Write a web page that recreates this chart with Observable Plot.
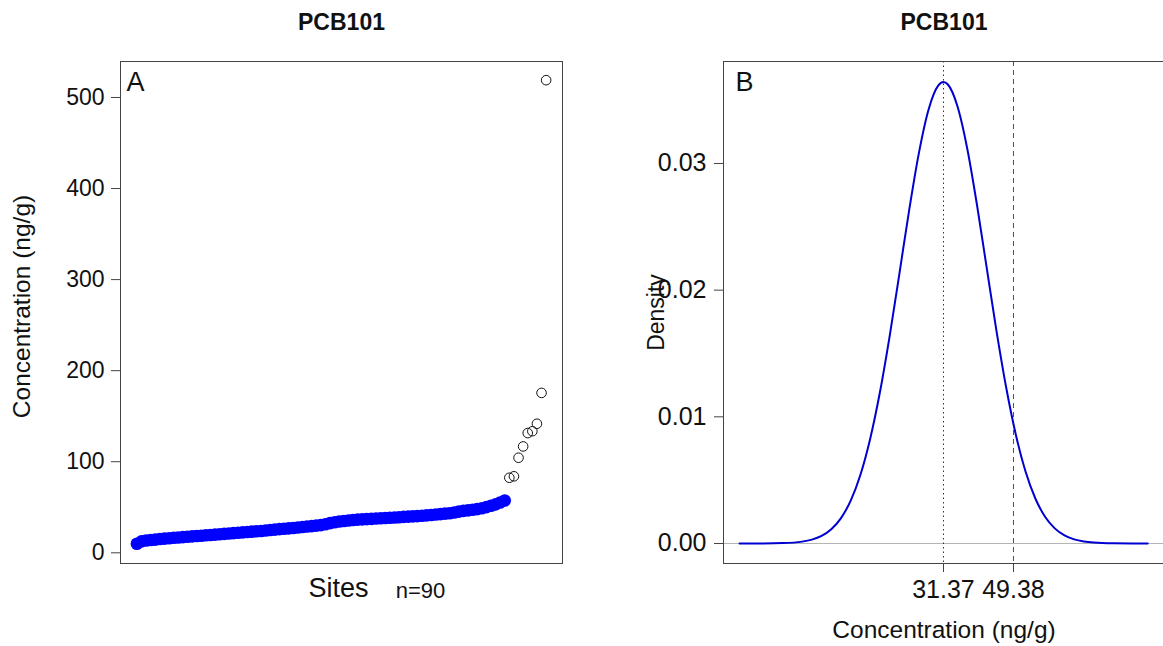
<!DOCTYPE html>
<html>
<head>
<meta charset="utf-8">
<script src="https://cdn.jsdelivr.net/npm/d3@7"></script>
<script src="https://cdn.jsdelivr.net/npm/@observablehq/plot@0.6"></script>
<style>
  html, body { margin: 0; padding: 0; overflow: hidden; background: #fff; }
  #wrap { position: relative; width: 1163px; height: 646px; overflow: hidden; }
  #panelA { position: absolute; left: 0; top: 0; width: 600px; }
  #panelB { position: absolute; left: 600px; top: 0; width: 570px; }
</style>
</head>
<body>
<div id="wrap"><div id="panelA"></div><div id="panelB"></div></div>
<script>
// PCB101 concentrations (ng/g) at 90 sites, sorted ascending.
// Sites within the normal range (filled blue points)
const sitesNormal = [
  10, 12.5, 13.5, 14, 14.5, 15.2, 15.6, 16, 16.5, 16.8,
  17.2, 17.6, 18, 18.4, 18.8, 19.2, 19.6, 20, 20.4, 20.8,
  21.2, 21.6, 22, 22.4, 22.8, 23.2, 23.6, 24, 24.5, 25,
  25.5, 26, 26.4, 26.8, 27.3, 27.8, 28.3, 28.8, 29.3, 29.8,
  30.4, 31.4, 32.6, 33.6, 34.4, 35, 35.5, 36, 36.4, 36.7,
  37, 37.3, 37.6, 37.9, 38.2, 38.5, 38.8, 39.1, 39.4, 39.7,
  40, 40.3, 40.7, 41.1, 41.5, 42, 42.5, 43, 43.5, 44.3,
  45.2, 46, 46.6, 47.2, 48, 49, 50.2, 51.6, 53.2, 55.2,
  57.5
];
// High-concentration sites (open circles)
const sitesHigh = [82.4, 84, 104.4, 116.8, 131.5, 133.5, 141.7, 175.6, 519];

// Fitted density of concentration (panel B)
const densityConc = [
  -21.1, -15, -10, -5, -2.5, 0, 2.5, 5, 7.5, 10, 12.5, 15, 17.5, 20, 22.5, 25, 27.5, 30,
  31.37, 32.5, 35, 37.5, 40, 42.5, 45, 47.5, 50, 52.5, 55, 57.5, 60, 62.5, 65, 67.5,
  70, 75, 80, 83.9
];
const densityValue = [
  0, 0.000005, 0.000029, 0.000146, 0.000305, 0.000601, 0.001127, 0.002004, 0.003385,
  0.005425, 0.008252, 0.011916, 0.016332, 0.021249, 0.026241, 0.030759, 0.034224, 0.036146,
  0.03643, 0.036237, 0.034482, 0.031146, 0.026703, 0.021732, 0.016789, 0.012310, 0.008568,
  0.005660, 0.003551, 0.002113, 0.001194, 0.000640, 0.000326, 0.000157, 0.000072, 0.000013,
  0.000002, 0
];
const meanConc = 31.37;
const upperConc = 49.38;

// Tick values
const yTicksA = [0, 100, 200, 300, 400, 500];
const yTicksB = [0, 0.01, 0.02, 0.03];
const xTicksB = [meanConc, upperConc];

const FONT = "'Liberation Sans', Arial, Helvetica, sans-serif";
const INK = "#111";
const AXIS = "#444";

const normalRows = sitesNormal.map((v, i) => ({site: i + 1, conc: v}));
const highRows = sitesHigh.map((v, i) => ({site: sitesNormal.length + i + 1, conc: v}));
const nSites = normalRows.length + highRows.length;
const densityRows = densityConc.map((x, i) => ({conc: x, density: densityValue[i]}));

const label = (s, o) => Plot.text([s], {text: d => d, fill: INK, lineAnchor: "middle", ...o});

// Panel A: sorted site concentrations
const plotA = Plot.plot({
  width: 600, height: 646,
  marginLeft: 120, marginRight: 38, marginTop: 61, marginBottom: 83,
  style: {fontFamily: FONT, fontSize: "23px", color: AXIS, background: "white"},
  x: {domain: [1 - 0.04 * (nSites - 1), nSites + 0.04 * (nSites - 1)], axis: null},
  y: {domain: [-11.75, 539.5]},
  marks: [
    Plot.frame({stroke: AXIS}),
    Plot.axisY(yTicksA, {tickSize: 9, tickPadding: 7, fontSize: 23, fill: INK, label: null}),
    Plot.dot(normalRows, {x: "site", y: "conc", r: 6.3, fill: "#0000ff", stroke: "none"}),
    Plot.dot(highRows, {x: "site", y: "conc", r: 4.8, fill: "none", stroke: INK, strokeWidth: 1}),
    label("PCB101", {frameAnchor: "top", dy: -39, fontWeight: "bold", fontSize: 23}),
    label("A", {frameAnchor: "top-left", textAnchor: "start", dx: 6, dy: 21, fontSize: 27}),
    label("Concentration (ng/g)", {frameAnchor: "left", textAnchor: "middle", dx: -98, dy: -6, rotate: -90, fontSize: 24.5}),
    label("Sites", {frameAnchor: "bottom", dx: -3, dy: 25, fontSize: 27}),
    label("n=90", {frameAnchor: "bottom", dx: 79, dy: 27, fontSize: 22})
  ]
});

// Panel B: density of concentrations with mean and upper reference lines
const plotB = Plot.plot({
  width: 570, height: 646,
  marginLeft: 123, marginRight: 6, marginTop: 61, marginBottom: 83,
  style: {fontFamily: FONT, fontSize: "23px", color: AXIS, background: "white"},
  x: {domain: [-25.23, 88.23]},
  y: {domain: [-0.00158, 0.03805]},
  marks: [
    Plot.ruleY([0], {stroke: "#b4b4b4"}),
    Plot.ruleX([meanConc], {stroke: "#333", strokeDasharray: "1.5,3"}),
    Plot.ruleX([upperConc], {stroke: "#4646a6", strokeDasharray: "5,4"}),
    Plot.line(densityRows, {x: "conc", y: "density", stroke: "#0000d0", strokeWidth: 2, curve: "monotone-x"}),
    Plot.frame({stroke: AXIS}),
    Plot.axisY(yTicksB, {tickFormat: d => d.toFixed(2), tickSize: 9, tickPadding: 8, fontSize: 25, fill: INK, label: null}),
    Plot.axisX(xTicksB, {tickFormat: d => d.toFixed(2), tickSize: 9, tickPadding: 8, fontSize: 25, fill: INK, label: null}),
    label("PCB101", {frameAnchor: "top", dy: -39, fontWeight: "bold", fontSize: 23}),
    label("B", {frameAnchor: "top-left", textAnchor: "start", dx: 12, dy: 21, fontSize: 27}),
    label("Density", {frameAnchor: "left", textAnchor: "middle", dx: -67, rotate: -90, fontSize: 23}),
    label("Concentration (ng/g)", {frameAnchor: "bottom", dy: 67, fontSize: 24.5})
  ]
});

document.getElementById("panelA").append(plotA);
document.getElementById("panelB").append(plotB);
</script>
</body>
</html>
